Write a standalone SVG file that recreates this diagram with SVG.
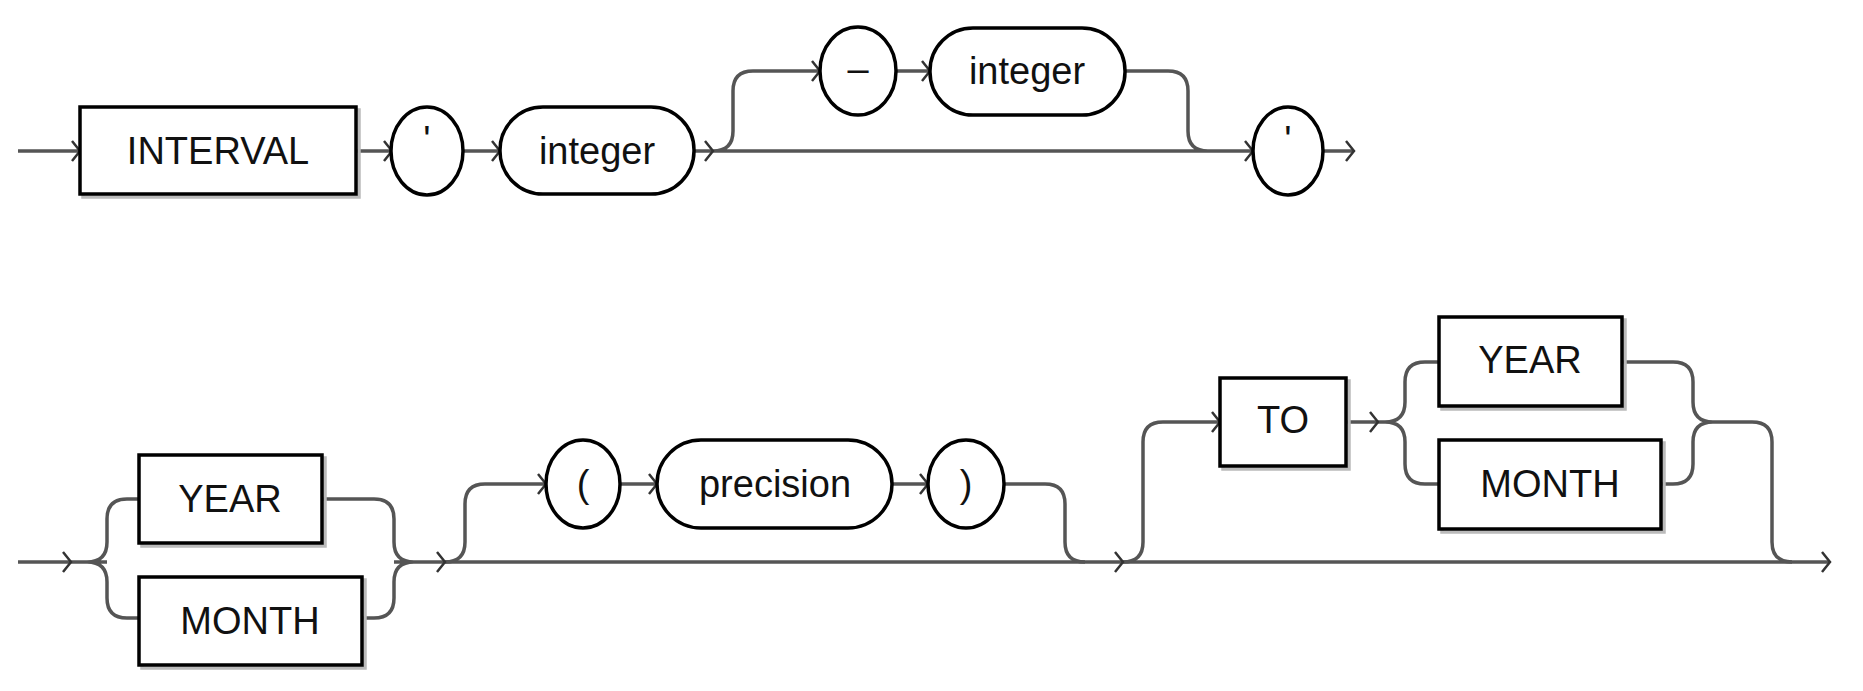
<svg xmlns="http://www.w3.org/2000/svg" width="1863" height="691" viewBox="0 0 1863 691">
<style>
.ln{fill:none;stroke:#555;stroke-width:3.5}
.ch{fill:none;stroke:#333;stroke-width:2.5}
.bx{fill:#fff;stroke:#000;stroke-width:3.5}
.sh{fill:none;stroke:#bbb;stroke-width:3.5}
text{font-family:"Liberation Sans Narrow","Liberation Sans",Arial,sans-serif;font-size:38px;fill:#111;text-anchor:middle;dominant-baseline:central}
</style>
<rect width="1863" height="691" fill="#fff"/>
<g id="connectors">
<path class="ln" d="M18 151H80M356 151H392M463 151H500M694 151H1253M713 151q20 0 20-20V91q0-20 20-20H820M897 71H930M1125 71H1168q20 0 20 20V131q0 20 20 20M1322 151H1354"/>
<path class="ln" d="M18 562H107M87 562q20 0 20-20V519q0-20 20-20H139M87 562q20 0 20 20V598q0 20 20 20H139M322 499H374q20 0 20 20V542q0 20 20 20M362 618H374q20 0 20-20V582q0-20 20-20M394 562H1830"/>
<path class="ln" d="M445 562q20 0 20-20V504q0-20 20-20H546M620 484H657M892 484H928M1004 484H1045q20 0 20 20V542q0 20 20 20"/>
<path class="ln" d="M1123 562q20 0 20-20V442q0-20 20-20H1220M1346 422H1385M1385 422q20 0 20-20V382q0-20 20-20H1439M1385 422q20 0 20 20V464q0 20 20 20H1439M1622 362H1673q20 0 20 20V402q0 20 20 20H1752q20 0 20 20V542q0 20 20 20M1661 484H1673q20 0 20-20V442q0-20 20-20"/>
<path class="ch" d="M72 141L80 151L72 161M384 141L392 151L384 161M492 141L500 151L492 161M705 141L713 151L705 161M812 61L820 71L812 81M922 61L930 71L922 81M1245 141L1253 151L1245 161M1346 141L1354 151L1346 161"/>
<path class="ch" d="M63 552L71 562L63 572M437 552L445 562L437 572M538 474L546 484L538 494M649 474L657 484L649 494M920 474L928 484L920 494M1115 552L1123 562L1115 572M1212 412L1220 422L1212 432M1370 412L1378 422L1370 432M1822 552L1830 562L1822 572"/>
</g>
<g id="n-interval"><rect class="sh" x="83" y="110" width="276" height="87"/><rect class="bx" x="80" y="107" width="276" height="87"/><text x="218" y="151">INTERVAL</text></g>
<g id="n-q1"><ellipse class="bx" cx="427" cy="151" rx="36" ry="44"/><text x="427" y="140">'</text></g>
<g id="n-int1"><rect class="bx" x="500" y="107" width="194" height="87" rx="43"/><text x="597" y="151">integer</text></g>
<g id="n-minus"><ellipse class="bx" cx="858" cy="71" rx="38" ry="44"/><text x="858" y="69">–</text></g>
<g id="n-int2"><rect class="bx" x="930" y="28" width="195" height="87" rx="43"/><text x="1027" y="71">integer</text></g>
<g id="n-q2"><ellipse class="bx" cx="1288" cy="151" rx="35" ry="44"/><text x="1288" y="140">'</text></g>
<g id="n-year1"><rect class="sh" x="142" y="458" width="183" height="88"/><rect class="bx" x="139" y="455" width="183" height="88"/><text x="230" y="499">YEAR</text></g>
<g id="n-month1"><rect class="sh" x="142" y="580" width="223" height="88"/><rect class="bx" x="139" y="577" width="223" height="88"/><text x="250" y="621">MONTH</text></g>
<g id="n-lp"><ellipse class="bx" cx="583" cy="484" rx="37" ry="44"/><text x="583" y="484">(</text></g>
<g id="n-prec"><rect class="bx" x="657" y="440" width="235" height="88" rx="44"/><text x="775" y="484">precision</text></g>
<g id="n-rp"><ellipse class="bx" cx="966" cy="484" rx="38" ry="44"/><text x="966" y="484">)</text></g>
<g id="n-to"><rect class="sh" x="1223" y="381" width="126" height="88"/><rect class="bx" x="1220" y="378" width="126" height="88"/><text x="1283" y="420">TO</text></g>
<g id="n-year2"><rect class="sh" x="1442" y="320" width="183" height="89"/><rect class="bx" x="1439" y="317" width="183" height="89"/><text x="1530" y="360">YEAR</text></g>
<g id="n-month2"><rect class="sh" x="1442" y="443" width="222" height="89"/><rect class="bx" x="1439" y="440" width="222" height="89"/><text x="1550" y="484">MONTH</text></g>
</svg>
